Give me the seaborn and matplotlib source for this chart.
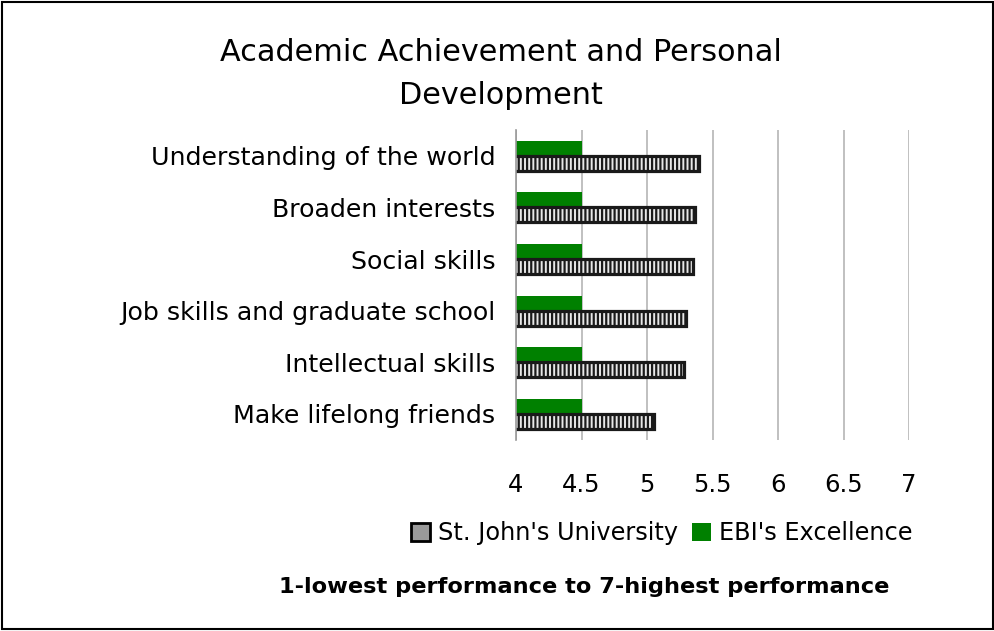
import pandas as pd
import matplotlib
matplotlib.use("Agg")
import matplotlib.pyplot as plt
import seaborn as sns
from matplotlib.patches import Patch, Rectangle

categories = [
    "Understanding of the world",
    "Broaden interests",
    "Social skills",
    "Job skills and graduate school",
    "Intellectual skills",
    "Make lifelong friends",
]
st_johns = [5.40, 5.37, 5.35, 5.30, 5.28, 5.05]
ebi = [4.5, 4.5, 4.5, 4.5, 4.5, 4.5]
x_ticks = [4, 4.5, 5, 5.5, 6, 6.5, 7]
x_tick_labels = ["4", "4.5", "5", "5.5", "6", "6.5", "7"]

sns.set_style("white")
plt.rcParams["font.family"] = ["DejaVu Sans"]
plt.rcParams["text.color"] = "black"
plt.rcParams["xtick.color"] = "black"
plt.rcParams["ytick.color"] = "black"
plt.rcParams["hatch.linewidth"] = 1.6

df = pd.DataFrame({
    "category": categories * 2,
    "score": ebi + st_johns,
    "series": ["EBI's Excellence"] * 6 + ["St. John's University"] * 6,
})

fig = plt.figure(figsize=(9.95, 6.31), dpi=100)
ax = fig.add_axes([0.5186, 0.303, 0.395, 0.491])

sns.barplot(data=df, y="category", x="score", hue="series",
            hue_order=["EBI's Excellence", "St. John's University"],
            palette=["#008000", "#e8e8e8"], orient="h", width=0.58,
            ax=ax, legend=False, saturation=1)

# second hue group is the hatched St. John's bars
for i, bar in enumerate(ax.patches[:12]):
    if i >= 6:
        bar.set_hatch("||||")
        bar.set_edgecolor("#1a1a1a")
        bar.set_linewidth(2.3)
    else:
        bar.set_edgecolor("none")

ax.set_xlim(4, 7)
ax.set_xticks(x_ticks)
ax.set_xticklabels(x_tick_labels, fontsize=17.5)
ax.tick_params(axis="x", length=0, pad=24)
ax.tick_params(axis="y", length=0, pad=15, labelsize=18.2)
ax.set_xlabel("")
ax.set_ylabel("")
ax.grid(axis="x", color="#b5b5b5", linewidth=1.2)
ax.set_axisbelow(True)
for s in ["top", "right", "bottom"]:
    ax.spines[s].set_visible(False)
ax.spines["left"].set_color("#999999")
ax.spines["left"].set_linewidth(1.2)

handles = [Patch(facecolor="#9a9a9a", edgecolor="black", linewidth=2),
           Patch(facecolor="#008000", edgecolor="none")]
fig.legend(handles, ["St. John's University", "EBI's Excellence"],
           loc="center", bbox_to_anchor=(0.665, 0.155), ncol=2, frameon=False,
           fontsize=17.3, handlelength=0.8, handleheight=0.8, handletextpad=0.3,
           columnspacing=0.6)

fig.suptitle("Academic Achievement and Personal\nDevelopment",
             x=0.503, y=0.94, fontsize=21.8, linespacing=1.6)
fig.text(0.587, 0.07, "1-lowest performance to 7-highest performance",
         ha="center", va="center", fontsize=16.2, fontweight="bold")

fig.patches.append(Rectangle((0.002, 0.003), 0.996, 0.994, transform=fig.transFigure,
                             fill=False, edgecolor="black", linewidth=1.5))

fig.savefig("out.png", dpi=100)
